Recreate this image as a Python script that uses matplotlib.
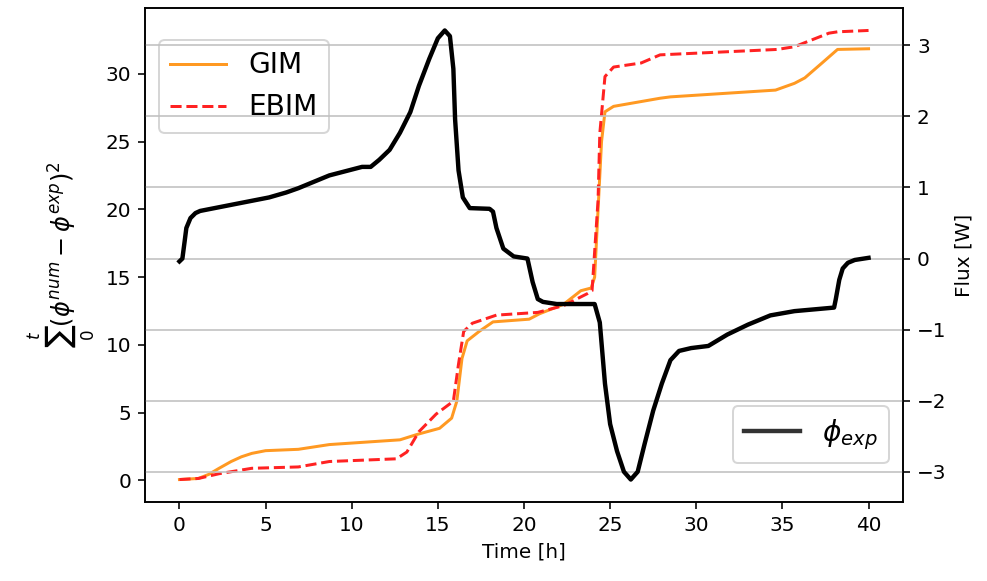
import matplotlib
matplotlib.use("Agg")
import matplotlib.pyplot as plt

# GIM cumulative error (left axis)
gim_t = [0, 1.1, 1.7, 2.3, 3.0, 3.6, 4.2, 5.0, 6.9, 8.7, 12.8, 13.8, 15.1, 15.8, 16.1, 16.4, 16.7, 17.4, 18.2,
         20.3, 20.9, 22.3, 23.3, 23.9, 24.1, 24.3, 24.5, 24.7, 25.2, 27.9, 28.5, 34.6, 35.7, 36.3, 37.3, 38.2, 40]
gim_v = [0.07, 0.15, 0.45, 0.9, 1.4, 1.75, 2.0, 2.2, 2.3, 2.65, 3.0, 3.4, 3.85, 4.6, 5.85, 9.0, 10.3, 11.0, 11.7,
         11.9, 12.3, 13.0, 14.0, 14.2, 15.0, 20.0, 25.0, 27.2, 27.6, 28.2, 28.3, 28.8, 29.3, 29.7, 30.8, 31.8, 31.85]

# EBIM cumulative error (left axis)
ebim_t = [0, 1.1, 2.3, 4.2, 6.9, 8.7, 12.6, 13.2, 13.9, 14.9, 15.9, 16.2, 16.5, 17.0, 18.4, 20.8, 22.3, 23.7,
          23.95, 24.3, 24.4, 24.7, 25.2, 26.8, 27.9, 34.7, 35.7, 37.7, 38.2, 40]
ebim_v = [0.07, 0.15, 0.5, 0.9, 1.0, 1.4, 1.6, 2.1, 3.6, 4.9, 5.85, 8.6, 11.0, 11.6, 12.2, 12.4, 12.9, 13.8,
          14.0, 20.7, 25.6, 29.8, 30.5, 30.8, 31.4, 31.8, 32.0, 33.0, 33.1, 33.2]

# Experimental flux (right axis)
flux_t = [0, 0.17, 0.3, 0.4, 0.64, 0.93, 1.2, 3.3, 5.2, 6.2, 6.9, 8.7, 10.6, 11.1, 11.6, 12.2, 12.8, 13.4,
          13.9, 14.5, 15.0, 15.4, 15.7, 15.9, 16.0, 16.2, 16.45, 16.85, 18.0, 18.2, 18.4, 18.8, 19.4, 20.2,
          20.5, 20.8, 21.1, 21.9, 24.1, 24.4, 24.7, 25.0, 25.4, 25.8, 26.2, 26.6, 27.0, 27.5, 28.0, 28.5,
          29.0, 29.7, 30.7, 31.8, 33.0, 34.3, 35.7, 38.0, 38.1, 38.3, 38.5, 38.8, 39.2, 40]
flux_v = [-0.04, 0.0, 0.24, 0.43, 0.57, 0.64, 0.67, 0.77, 0.86, 0.93, 0.99, 1.17, 1.29, 1.29, 1.39, 1.53,
          1.77, 2.06, 2.43, 2.81, 3.1, 3.21, 3.13, 2.67, 1.96, 1.24, 0.86, 0.71, 0.7, 0.66, 0.43, 0.14, 0.03,
          0.0, -0.33, -0.57, -0.61, -0.64, -0.64, -0.9, -1.76, -2.33, -2.71, -3.0, -3.11, -3.0, -2.61, -2.14,
          -1.76, -1.43, -1.3, -1.26, -1.23, -1.07, -0.93, -0.8, -0.74, -0.69, -0.57, -0.3, -0.14, -0.06,
          -0.02, 0.01]

fig = plt.figure(figsize=(987 / 144, 581 / 144), dpi=144)
ax = fig.add_axes([145 / 987, 1 - 502 / 581, (903 - 145) / 987, (502 - 8) / 581])
ax.plot(gim_t, gim_v, color="#ff9922", lw=1.5, label="GIM")
ax.plot(ebim_t, ebim_v, color="#ff2222", lw=1.5, ls="--", label="EBIM")
ax.set_xlabel("Time [h]")
ax.set_ylabel(r"$\sum_0^t(\phi^{num}-\phi^{exp})^2$", fontsize=12)
ax.legend(loc="upper left", fontsize=14, bbox_to_anchor=(0, 0.963))

ax2 = ax.twinx()
ax2.plot(flux_t, flux_v, color="black", lw=2.2, label=r"$\phi_{exp}$")
ax2.set_ylabel("Flux [W]")
ax2.grid(True, axis="y", color="#c0c0c0")
ax2.set_axisbelow(True)
leg2 = ax2.legend(loc="lower right", fontsize=14, bbox_to_anchor=(1, 0.05))
leg2.get_lines()[0].set_color("#333333")

fig.savefig("out.png", dpi=144)
